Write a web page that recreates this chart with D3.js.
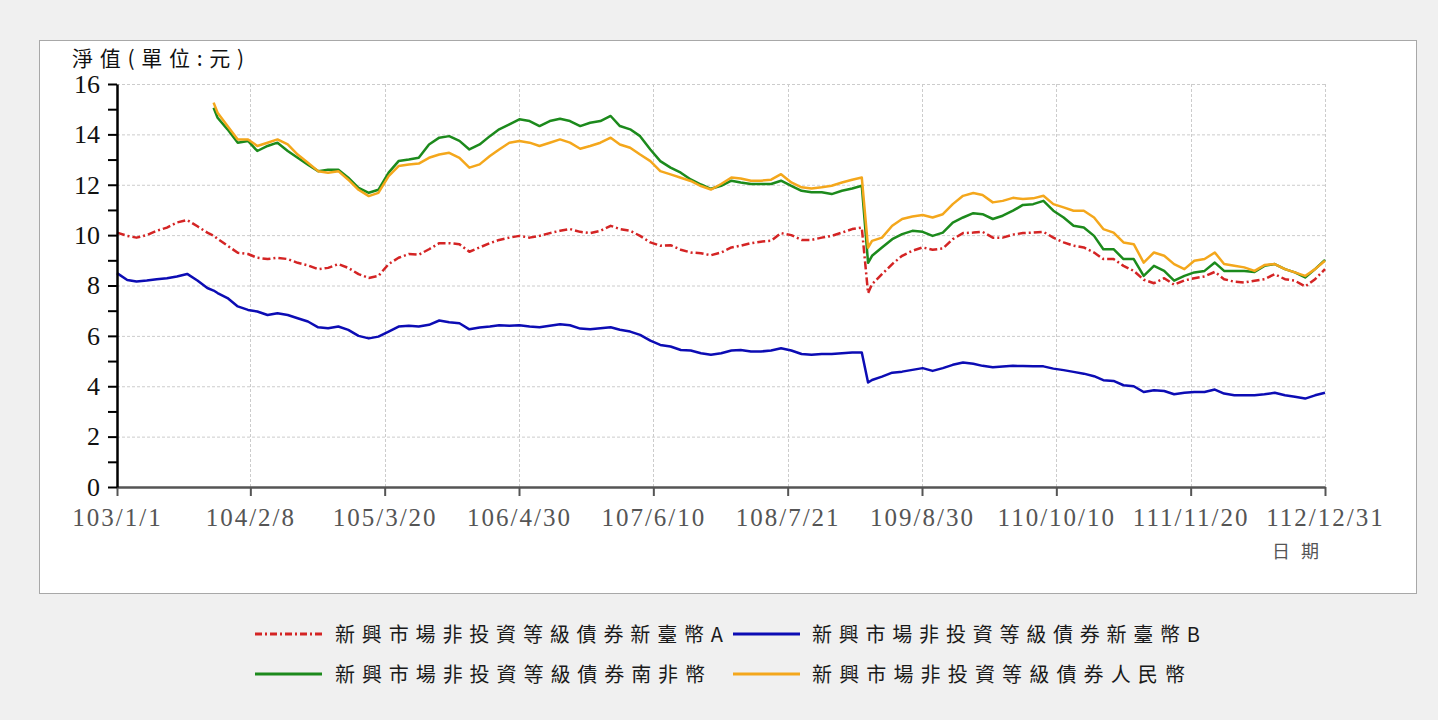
<!DOCTYPE html>
<html><head><meta charset="utf-8">
<script src="https://cdn.jsdelivr.net/npm/d3@7"></script>
<style>
html,body{margin:0;padding:0;background:#f0f0f0;}
svg{display:block;}
</style></head><body>
<svg id="chart" width="1438" height="720"></svg>
<script>
// ---------- DATA ----------
const dates = [
  "2014-01-01","2014-02-01","2014-03-01","2014-04-01","2014-05-01","2014-06-01","2014-07-01","2014-08-01","2014-09-01","2014-10-01","2014-10-20","2014-11-01","2014-12-01",
  "2015-01-01","2015-02-01","2015-03-01","2015-04-01","2015-05-01","2015-06-01","2015-07-01","2015-08-01","2015-09-01","2015-10-01","2015-11-01","2015-12-01",
  "2016-01-01","2016-02-01","2016-03-01","2016-04-01","2016-05-01","2016-06-01","2016-07-01","2016-08-01","2016-09-01","2016-10-01","2016-11-01","2016-12-01",
  "2017-01-01","2017-02-01","2017-03-01","2017-04-01","2017-05-01","2017-06-01","2017-07-01","2017-08-01","2017-09-01","2017-10-01","2017-11-01","2017-12-01",
  "2018-01-01","2018-02-01","2018-03-01","2018-04-01","2018-05-01","2018-06-01","2018-07-01","2018-08-01","2018-09-01","2018-10-01","2018-11-01","2018-12-01",
  "2019-01-01","2019-02-01","2019-03-01","2019-04-01","2019-05-01","2019-06-01","2019-07-01","2019-08-01","2019-09-01","2019-10-01","2019-11-01","2019-12-01",
  "2020-01-01","2020-02-01","2020-03-01","2020-03-20","2020-04-01","2020-05-01","2020-06-01","2020-07-01","2020-08-01","2020-09-01","2020-10-01","2020-11-01","2020-12-01",
  "2021-01-01","2021-02-01","2021-03-01","2021-04-01","2021-05-01","2021-06-01","2021-07-01","2021-08-01","2021-09-01","2021-10-01","2021-11-01","2021-12-01",
  "2022-01-01","2022-02-01","2022-03-01","2022-04-01","2022-05-01","2022-06-01","2022-07-01","2022-08-01","2022-09-01","2022-10-01","2022-11-01","2022-12-01",
  "2023-01-01","2023-02-01","2023-03-01","2023-04-01","2023-05-01","2023-06-01","2023-07-01","2023-08-01","2023-09-01","2023-10-01","2023-11-01","2023-12-01",
  "2023-12-31"
];

const navTwdA = [
  10.1,9.97,9.9,10.0,10.17,10.3,10.5,10.6,10.35,10.1,9.98,9.85,9.58,
  9.3,9.25,9.1,9.05,9.1,9.05,8.9,8.8,8.65,8.7,8.85,8.7,
  8.45,8.3,8.38,8.85,9.1,9.25,9.22,9.44,9.68,9.68,9.64,9.34,
  9.51,9.68,9.81,9.9,9.97,9.9,9.97,10.08,10.17,10.24,10.13,10.08,
  10.17,10.37,10.24,10.17,9.97,9.71,9.58,9.6,9.42,9.31,9.28,9.2,
  9.31,9.51,9.58,9.68,9.74,9.78,10.08,10.0,9.81,9.81,9.9,9.97,
  10.1,10.24,10.3,7.7,8.05,8.45,8.85,9.18,9.38,9.51,9.42,9.47,9.84,
  10.08,10.1,10.13,9.9,9.9,10.02,10.08,10.1,10.13,9.9,9.71,9.58,
  9.51,9.31,9.05,9.05,8.78,8.58,8.23,8.09,8.29,8.03,8.2,8.29,
  8.36,8.54,8.25,8.15,8.12,8.19,8.25,8.45,8.25,8.19,7.96,8.25,
  8.65
];

const navTwdB = [
  8.49,8.22,8.16,8.2,8.25,8.29,8.36,8.46,8.2,7.9,7.8,7.7,7.5,
  7.17,7.03,6.97,6.83,6.9,6.83,6.7,6.57,6.34,6.3,6.37,6.24,
  6.0,5.9,5.97,6.17,6.37,6.4,6.37,6.44,6.61,6.54,6.5,6.26,
  6.33,6.37,6.42,6.4,6.42,6.37,6.34,6.4,6.46,6.42,6.29,6.26,
  6.3,6.34,6.24,6.17,6.04,5.81,5.64,5.58,5.44,5.42,5.31,5.25,
  5.31,5.42,5.44,5.38,5.38,5.42,5.51,5.42,5.28,5.25,5.28,5.28,
  5.31,5.34,5.34,4.15,4.25,4.38,4.54,4.58,4.65,4.72,4.61,4.72,4.85,
  4.94,4.89,4.81,4.75,4.78,4.81,4.8,4.79,4.79,4.7,4.64,4.57,
  4.5,4.4,4.24,4.21,4.04,4.0,3.77,3.84,3.81,3.68,3.74,3.77,
  3.77,3.87,3.71,3.64,3.64,3.64,3.68,3.74,3.64,3.58,3.51,3.64,
  3.74
];

const navZar = [
  null,null,null,null,null,null,null,null,null,null,15.06,14.66,14.2,
  13.67,13.74,13.34,13.54,13.67,13.34,13.07,12.8,12.54,12.6,12.6,12.28,
  11.88,11.68,11.8,12.48,12.94,13.0,13.07,13.6,13.87,13.93,13.74,13.4,
  13.6,13.93,14.2,14.4,14.6,14.53,14.33,14.53,14.62,14.53,14.33,14.46,
  14.53,14.73,14.33,14.2,13.93,13.4,12.94,12.68,12.48,12.21,12.01,11.84,
  11.96,12.16,12.09,12.03,12.03,12.03,12.16,11.96,11.76,11.7,11.7,11.63,
  11.76,11.85,11.96,8.9,9.18,9.51,9.84,10.04,10.17,10.13,9.97,10.1,10.5,
  10.7,10.87,10.83,10.64,10.77,10.97,11.2,11.23,11.36,10.97,10.7,10.37,
  10.3,9.97,9.44,9.44,9.05,9.05,8.38,8.78,8.58,8.19,8.38,8.52,
  8.58,8.91,8.58,8.58,8.58,8.54,8.78,8.85,8.65,8.52,8.32,8.65,
  9.02
];

const navCny = [
  null,null,null,null,null,null,null,null,null,null,15.26,14.86,14.33,
  13.8,13.8,13.54,13.67,13.8,13.6,13.2,12.87,12.54,12.48,12.54,12.2,
  11.8,11.55,11.68,12.34,12.74,12.8,12.84,13.07,13.2,13.27,13.07,12.68,
  12.81,13.14,13.4,13.67,13.74,13.67,13.54,13.67,13.8,13.67,13.43,13.54,
  13.67,13.87,13.6,13.47,13.2,12.94,12.54,12.41,12.28,12.15,11.95,11.81,
  12.03,12.29,12.25,12.16,12.16,12.2,12.42,12.09,11.9,11.85,11.9,11.96,
  12.09,12.2,12.29,9.5,9.77,9.9,10.37,10.64,10.74,10.8,10.7,10.83,11.23,
  11.56,11.67,11.59,11.3,11.36,11.48,11.43,11.46,11.56,11.23,11.1,10.97,
  10.97,10.7,10.24,10.1,9.71,9.64,8.91,9.31,9.18,8.85,8.65,8.98,
  9.05,9.31,8.85,8.78,8.72,8.58,8.81,8.85,8.65,8.52,8.38,8.65,
  8.98
];

const seriesNames = [
  "新興市場非投資等級債券新臺幣A",
  "新興市場非投資等級債券新臺幣B",
  "新興市場非投資等級債券南非幣",
  "新興市場非投資等級債券人民幣"
];

const xTickDates = ["2014-01-01","2015-02-08","2016-03-20","2017-04-30","2018-06-10","2019-07-21","2020-08-30","2021-10-10","2022-11-20","2023-12-31"];
const xTickLabels = ["103/1/1","104/2/8","105/3/20","106/4/30","107/6/10","108/7/21","109/8/30","110/10/10","111/11/20","112/12/31"];
const yTicks = [0,1,2,3,4,5,6,7,8,9,10,11,12,13,14,15,16];
const yTitle = "淨值(單位:元)";
const xTitle = "日期";

// ---------- STYLE / LAYOUT ----------
const serif = "'Liberation Serif','DejaVu Serif',serif";
const cjk = "'Noto Sans CJK TC','Noto Sans CJK SC',sans-serif";
const styles = [
  {color:"#d42424", dash:"8,3,2,3", width:2.5},
  {color:"#0c0cb4", dash:null, width:2.5},
  {color:"#1c8a1c", dash:null, width:2.5},
  {color:"#f4a71c", dash:null, width:2.5}
];
const drawOrder = [0,1,2,3];

const parse = d3.timeParse("%Y-%m-%d");
const svg = d3.select("#chart");
const W = 1438, H = 720;
const plot = {left:117, right:1325, top:84, bottom:487};

svg.append("rect").attr("width",W).attr("height",H).attr("fill","#f0f0f0");
svg.append("rect").attr("x",39.5).attr("y",40.5).attr("width",1377).attr("height",553)
  .attr("fill","#ffffff").attr("stroke","#a8a8a8").attr("stroke-width",1);

const x = d3.scaleTime()
  .domain([parse(xTickDates[0]), parse(xTickDates[xTickDates.length-1])])
  .range([plot.left, plot.right]);
const y = d3.scaleLinear().domain([0,16]).range([plot.bottom, plot.top]);

// grid
const grid = svg.append("g");
grid.selectAll("line.h").data(d3.range(2,17,2)).join("line")
  .attr("x1",plot.left).attr("x2",plot.right)
  .attr("y1",d=>y(d)+0.5).attr("y2",d=>y(d)+0.5)
  .attr("stroke","#cccccc").attr("stroke-width",1).attr("stroke-dasharray","3,2");
grid.selectAll("line.v").data(xTickDates.slice(1)).join("line")
  .attr("x1",d=>Math.round(x(parse(d)))+0.5).attr("x2",d=>Math.round(x(parse(d)))+0.5)
  .attr("y1",plot.top).attr("y2",plot.bottom)
  .attr("stroke","#cccccc").attr("stroke-width",1).attr("stroke-dasharray","3,2");

// lines
const allSeries = [navTwdA, navTwdB, navZar, navCny];
const parsedDates = dates.map(parse);
drawOrder.forEach(i => {
  const pts = parsedDates.map((d,k)=>({d, v: allSeries[i][k]})).filter(p => p.v !== null);
  const line = d3.line().x(p=>x(p.d)).y(p=>y(p.v));
  const path = svg.append("path").datum(pts).attr("d",line)
    .attr("fill","none").attr("stroke",styles[i].color)
    .attr("stroke-width",styles[i].width).attr("stroke-linejoin","round");
  if (styles[i].dash) path.attr("stroke-dasharray",styles[i].dash);
});

// x axis
const xAxis = svg.append("g").attr("transform",`translate(0,${plot.bottom})`)
  .call(d3.axisBottom(x).tickValues(xTickDates.map(parse))
    .tickFormat((d,i)=>xTickLabels[i]).tickSize(9).tickSizeOuter(0).tickPadding(6));
xAxis.select(".domain").attr("stroke","#555").attr("stroke-width",2.5);
xAxis.selectAll(".tick line").attr("stroke","#555").attr("stroke-width",2);
xAxis.selectAll(".tick text").attr("fill","#555").attr("font-family",serif)
  .attr("font-size",25).attr("letter-spacing","2px").attr("dy","0.95em");

// y axis
const yAxis = svg.append("g").attr("transform",`translate(${plot.left},0)`)
  .call(d3.axisLeft(y).tickValues(yTicks).tickFormat(d => d%2===0 ? d : "")
    .tickSize(9).tickSizeOuter(0).tickPadding(8));
yAxis.select(".domain").attr("stroke","#000").attr("stroke-width",2.5);
yAxis.selectAll(".tick line").attr("stroke","#000").attr("stroke-width",2);
yAxis.selectAll(".tick text").attr("fill","#111").attr("font-family",serif)
  .attr("font-size",26);

// axis titles
svg.append("text").attr("x",72).attr("y",66).text(yTitle)
  .attr("font-family",cjk).attr("font-size",21).attr("fill","#111")
  .attr("textLength",172).attr("lengthAdjust","spacing");
svg.append("text").attr("x",1272).attr("y",558).text(xTitle)
  .attr("font-family",cjk).attr("font-size",18).attr("fill","#555")
  .attr("textLength",47).attr("lengthAdjust","spacing");

// legend
const legendPos = [
  {lx:255, tx:335, cy:634, tl:388},
  {lx:733, tx:812, cy:634, tl:388},
  {lx:255, tx:335, cy:674, tl:370},
  {lx:733, tx:812, cy:674, tl:373}
];
const lg = svg.append("g");
seriesNames.forEach((name,i) => {
  const p = legendPos[i];
  const l = lg.append("line").attr("x1",p.lx).attr("x2",p.lx+67)
    .attr("y1",p.cy).attr("y2",p.cy)
    .attr("stroke",styles[i].color).attr("stroke-width",3);
  if (styles[i].dash) l.attr("stroke-dasharray","7,3,2,3");
  lg.append("text").attr("x",p.tx).attr("y",p.cy+8).text(name)
    .attr("font-family",cjk).attr("font-size",20).attr("fill","#1a1a1a")
    .attr("textLength",p.tl).attr("lengthAdjust","spacing");
});
</script>
</body></html>
